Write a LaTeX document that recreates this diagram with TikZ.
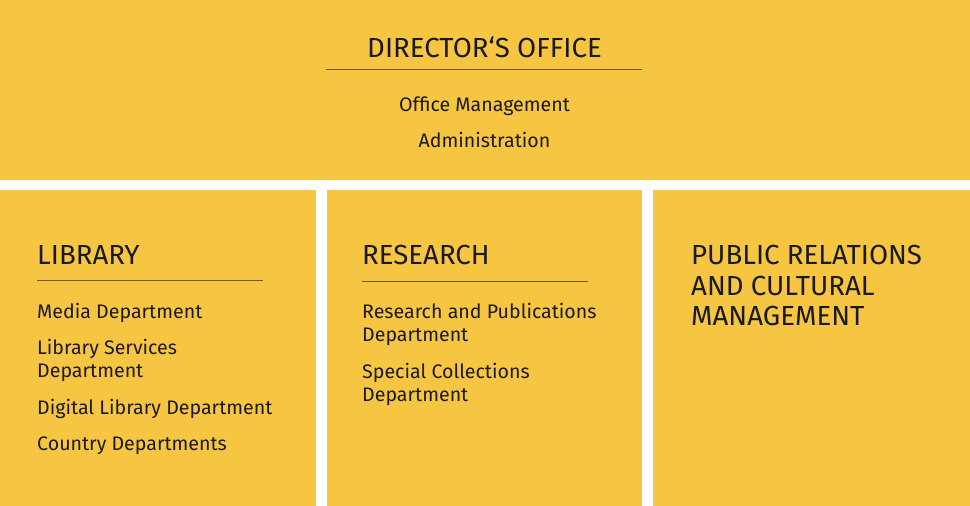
\documentclass[tikz,border=0pt]{standalone}
\usepackage{fontspec}
\setmainfont{Fira Sans}
\definecolor{boxyellow}{HTML}{F6C643}
\definecolor{ink}{HTML}{1A1A1A}
\definecolor{rulecol}{HTML}{6E5A2A}
\begin{document}
\begin{tikzpicture}[x=1pt,y=-1pt,
  panel/.style={fill=boxyellow,draw=none},
  head/.style={font=\fontsize{27.6}{31}\selectfont,text=ink,inner sep=0pt},
  item/.style={font=\fontsize{19.6}{23}\selectfont,text=ink,inner sep=0pt},
  sep/.style={draw=rulecol,line width=0.9pt}]
\useasboundingbox (0,0) rectangle (970,506);
\fill[white] (0,0) rectangle (970,506);
\path[panel] (0,0) rectangle (970,180);
\path[panel] (0,190) rectangle (316,506);
\path[panel] (327,190) rectangle (642,506);
\path[panel] (653,190) rectangle (970,506);
% director
\node[head,anchor=base] (dir) at (484.5,57) {DIRECTOR‘S OFFICE};
\coordinate (dl) at (326,69);
\coordinate (dr) at (642,69);
\draw[sep] (dl) -- (dr);
\node[item,anchor=base] (om) at (484.5,111) {Office Management};
\node[item,anchor=base] (adm) at (484.5,147) {Administration};
% library
\node[head,anchor=base west] (lib) at (37,264) {LIBRARY};
\coordinate (ll) at (37,280);
\coordinate (lr) at (263,280);
\draw[sep] (ll) -- (lr);
\node[item,anchor=base west] (l1) at (37,318) {Media Department};
\node[item,anchor=base west] (l2a) at (37,354) {Library Services};
\node[item,anchor=base west] (l2b) at (37,377) {Department};
\node[item,anchor=base west] (l3) at (37,414) {Digital Library Department};
\node[item,anchor=base west] (l4) at (37,450) {Country Departments};
% research
\node[head,anchor=base west] (res) at (362,264) {RESEARCH};
\coordinate (rl) at (362,281);
\coordinate (rr) at (588,281);
\draw[sep] (rl) -- (rr);
\node[item,anchor=base west] (r1a) at (362,318) {Research and Publications};
\node[item,anchor=base west] (r1b) at (362,341) {Department};
\node[item,anchor=base west] (r2a) at (362,378) {Special Collections};
\node[item,anchor=base west] (r2b) at (362,401) {Department};
% public relations
\node[head,anchor=base west] (pr1) at (691,264) {PUBLIC RELATIONS};
\node[head,anchor=base west] (pr2) at (691,295) {AND CULTURAL};
\node[head,anchor=base west] (pr3) at (691,325) {MANAGEMENT};
\end{tikzpicture}
\end{document}
